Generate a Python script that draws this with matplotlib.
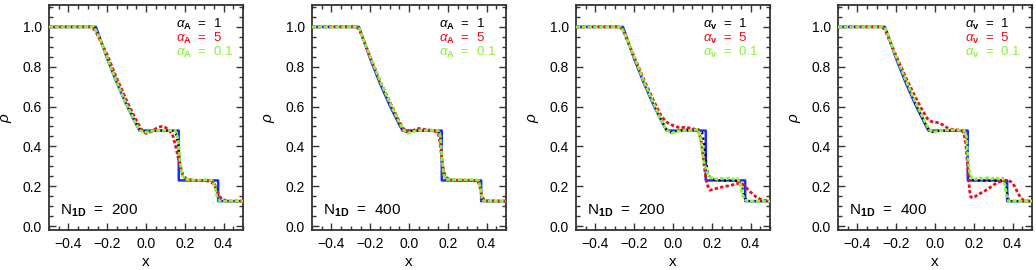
import matplotlib
matplotlib.use('Agg')
import matplotlib.pyplot as plt
from matplotlib.ticker import MultipleLocator

plt.rcParams['font.family'] = ['Liberation Sans', 'DejaVu Sans']
plt.rcParams['mathtext.fontset'] = 'custom'
plt.rcParams['mathtext.rm'] = 'Liberation Sans'
plt.rcParams['mathtext.it'] = 'Liberation Sans:italic'
plt.rcParams['mathtext.bf'] = 'Liberation Sans:bold'

# analytic solution (blue)
exact_x = [-0.5, -0.258, -0.2, -0.15, -0.1, -0.05, -0.033, 0.169, 0.169, 0.372, 0.372, 0.5]
exact_rho = [1.0, 1.0, 0.84, 0.717, 0.607, 0.509, 0.479, 0.479, 0.229, 0.229, 0.125, 0.125]

# panel 1: alpha_A, N=200
p1_black_x = [-0.5, -0.28, -0.26, -0.24, -0.2, -0.15, -0.1, -0.05, -0.03, -0.01, 0.02, 0.06, 0.1, 0.14, 0.155, 0.165, 0.175, 0.185, 0.2, 0.22, 0.25, 0.3, 0.34, 0.355, 0.365, 0.375, 0.39, 0.5]
p1_black_y = [1.0, 1.0, 0.99, 0.95, 0.85, 0.73, 0.62, 0.52, 0.485, 0.475, 0.475, 0.48, 0.48, 0.478, 0.46, 0.41, 0.32, 0.27, 0.24, 0.232, 0.23, 0.23, 0.228, 0.21, 0.17, 0.135, 0.125, 0.125]
p1_red_x = [-0.5, -0.28, -0.26, -0.24, -0.2, -0.15, -0.1, -0.05, -0.02, 0.0, 0.03, 0.06, 0.08, 0.1, 0.12, 0.14, 0.16, 0.175, 0.19, 0.21, 0.24, 0.28, 0.32, 0.345, 0.36, 0.375, 0.39, 0.42, 0.5]
p1_red_y = [1.0, 1.0, 0.98, 0.94, 0.86, 0.74, 0.63, 0.53, 0.48, 0.465, 0.475, 0.495, 0.5, 0.495, 0.48, 0.45, 0.37, 0.3, 0.255, 0.235, 0.23, 0.228, 0.226, 0.215, 0.19, 0.155, 0.135, 0.125, 0.125]
p1_green_x = [-0.5, -0.27, -0.25, -0.2, -0.15, -0.1, -0.05, -0.03, -0.01, 0.02, 0.06, 0.1, 0.15, 0.165, 0.175, 0.185, 0.2, 0.25, 0.3, 0.34, 0.355, 0.365, 0.38, 0.5]
p1_green_y = [1.0, 1.0, 0.97, 0.845, 0.72, 0.61, 0.51, 0.48, 0.47, 0.475, 0.48, 0.48, 0.48, 0.44, 0.33, 0.26, 0.235, 0.23, 0.232, 0.23, 0.2, 0.15, 0.125, 0.125]

# panel 2: alpha_A, N=400
p2_black_x = [-0.5, -0.27, -0.255, -0.2, -0.15, -0.1, -0.05, -0.03, -0.015, 0.01, 0.06, 0.1, 0.15, 0.16, 0.17, 0.18, 0.19, 0.21, 0.25, 0.3, 0.36, 0.368, 0.376, 0.385, 0.5]
p2_black_y = [1.0, 1.0, 0.99, 0.845, 0.725, 0.615, 0.515, 0.483, 0.472, 0.477, 0.48, 0.48, 0.478, 0.45, 0.34, 0.26, 0.24, 0.232, 0.23, 0.23, 0.228, 0.19, 0.14, 0.125, 0.125]
p2_red_x = [-0.5, -0.27, -0.255, -0.2, -0.15, -0.1, -0.05, -0.03, -0.01, 0.02, 0.05, 0.08, 0.12, 0.15, 0.16, 0.17, 0.18, 0.19, 0.21, 0.25, 0.3, 0.355, 0.365, 0.375, 0.39, 0.5]
p2_red_y = [1.0, 1.0, 0.985, 0.85, 0.73, 0.625, 0.525, 0.49, 0.475, 0.48, 0.49, 0.485, 0.48, 0.47, 0.42, 0.33, 0.27, 0.245, 0.233, 0.23, 0.23, 0.226, 0.2, 0.15, 0.127, 0.125]
p2_green_x = [-0.5, -0.27, -0.255, -0.2, -0.15, -0.1, -0.05, -0.03, -0.01, 0.01, 0.05, 0.1, 0.15, 0.162, 0.17, 0.178, 0.19, 0.22, 0.26, 0.3, 0.34, 0.36, 0.368, 0.376, 0.385, 0.5]
p2_green_y = [1.0, 1.0, 0.99, 0.85, 0.73, 0.62, 0.52, 0.485, 0.465, 0.472, 0.48, 0.48, 0.48, 0.45, 0.34, 0.26, 0.235, 0.232, 0.233, 0.232, 0.233, 0.228, 0.19, 0.14, 0.125, 0.125]

# panel 3: alpha_v, N=200
p3_black_x = [-0.5, -0.28, -0.26, -0.2, -0.15, -0.1, -0.05, -0.03, -0.01, 0.03, 0.08, 0.13, 0.15, 0.16, 0.17, 0.18, 0.2, 0.25, 0.3, 0.34, 0.355, 0.365, 0.375, 0.39, 0.5]
p3_black_y = [1.0, 1.0, 0.99, 0.845, 0.725, 0.615, 0.515, 0.48, 0.47, 0.48, 0.485, 0.485, 0.47, 0.42, 0.33, 0.26, 0.235, 0.228, 0.228, 0.225, 0.2, 0.16, 0.135, 0.125, 0.125]
p3_red_x = [-0.5, -0.28, -0.26, -0.2, -0.15, -0.1, -0.06, -0.03, 0.0, 0.03, 0.07, 0.1, 0.13, 0.145, 0.155, 0.165, 0.175, 0.19, 0.21, 0.25, 0.3, 0.34, 0.36, 0.38, 0.4, 0.43, 0.46, 0.5]
p3_red_y = [1.0, 1.0, 0.99, 0.85, 0.735, 0.63, 0.55, 0.52, 0.505, 0.495, 0.495, 0.49, 0.48, 0.43, 0.35, 0.27, 0.21, 0.18, 0.185, 0.195, 0.205, 0.215, 0.21, 0.19, 0.17, 0.145, 0.13, 0.125]
p3_green_x = [-0.5, -0.27, -0.25, -0.2, -0.15, -0.1, -0.05, -0.03, -0.01, 0.02, 0.06, 0.1, 0.13, 0.14, 0.15, 0.16, 0.175, 0.19, 0.21, 0.23, 0.25, 0.27, 0.29, 0.31, 0.33, 0.345, 0.355, 0.365, 0.38, 0.5]
p3_green_y = [1.0, 1.0, 0.97, 0.85, 0.725, 0.615, 0.51, 0.48, 0.465, 0.475, 0.48, 0.48, 0.485, 0.44, 0.38, 0.32, 0.27, 0.245, 0.24, 0.235, 0.24, 0.235, 0.242, 0.235, 0.24, 0.22, 0.17, 0.14, 0.125, 0.125]

# panel 4: alpha_v, N=400
p4_black_x = [-0.5, -0.27, -0.255, -0.2, -0.15, -0.1, -0.05, -0.03, -0.015, 0.01, 0.06, 0.1, 0.15, 0.16, 0.168, 0.176, 0.186, 0.2, 0.25, 0.3, 0.36, 0.368, 0.376, 0.385, 0.5]
p4_black_y = [1.0, 1.0, 0.99, 0.845, 0.725, 0.615, 0.515, 0.483, 0.472, 0.477, 0.48, 0.48, 0.478, 0.45, 0.34, 0.26, 0.235, 0.23, 0.228, 0.228, 0.226, 0.19, 0.14, 0.125, 0.125]
p4_red_x = [-0.5, -0.28, -0.26, -0.2, -0.15, -0.1, -0.07, -0.04, -0.02, 0.0, 0.02, 0.04, 0.06, 0.08, 0.1, 0.14, 0.15, 0.16, 0.17, 0.178, 0.185, 0.195, 0.21, 0.23, 0.26, 0.29, 0.32, 0.35, 0.38, 0.395, 0.41, 0.425, 0.44, 0.455, 0.47, 0.5]
p4_red_y = [1.0, 1.0, 0.99, 0.855, 0.745, 0.645, 0.59, 0.54, 0.525, 0.522, 0.518, 0.508, 0.495, 0.487, 0.484, 0.48, 0.46, 0.4, 0.28, 0.18, 0.145, 0.142, 0.15, 0.162, 0.178, 0.198, 0.218, 0.228, 0.228, 0.22, 0.2, 0.17, 0.145, 0.13, 0.126, 0.125]
p4_green_x = [-0.5, -0.27, -0.255, -0.2, -0.15, -0.1, -0.05, -0.03, -0.01, 0.02, 0.06, 0.1, 0.15, 0.162, 0.17, 0.178, 0.19, 0.21, 0.23, 0.25, 0.27, 0.29, 0.31, 0.33, 0.35, 0.362, 0.37, 0.38, 0.5]
p4_green_y = [1.0, 1.0, 0.99, 0.85, 0.73, 0.62, 0.52, 0.485, 0.47, 0.478, 0.482, 0.482, 0.48, 0.45, 0.34, 0.27, 0.24, 0.235, 0.242, 0.235, 0.243, 0.236, 0.244, 0.236, 0.24, 0.2, 0.14, 0.125, 0.125]

panels = [
    ('A', '200', (p1_black_x, p1_black_y), (p1_red_x, p1_red_y), (p1_green_x, p1_green_y)),
    ('A', '400', (p2_black_x, p2_black_y), (p2_red_x, p2_red_y), (p2_green_x, p2_green_y)),
    ('v', '200', (p3_black_x, p3_black_y), (p3_red_x, p3_red_y), (p3_green_x, p3_green_y)),
    ('v', '400', (p4_black_x, p4_black_y), (p4_red_x, p4_red_y), (p4_green_x, p4_green_y)),
]
alpha_vals = ['1', '5', '0.1']

BLUE = '#1a2cff'
RED = '#e8101a'
GREEN = '#8cf03c'
spine_col = '#333333'

fig = plt.figure(figsize=(10.36, 2.7), dpi=100)
lefts = [49, 312, 576, 838]
for i, (sub, n1d, blk, red, grn) in enumerate(panels):
    ax = fig.add_axes([lefts[i] / 1036, 40 / 270, 194 / 1036, 225 / 270])
    ax.plot(exact_x, exact_rho, color=BLUE, lw=1.8, zorder=2)
    ax.plot(*blk, color='black', lw=1.6, ls=(0, (1, 1.5)), zorder=3)
    ax.plot(*red, color=RED, lw=2.0, ls=(0, (1.2, 0.8)), zorder=4)
    ax.plot(*grn, color=GREEN, lw=2.0, ls=(0, (1.5, 0.6)), zorder=5)

    ax.set_xlim(-0.5, 0.5)
    ax.set_ylim(-0.02, 1.11)
    ax.xaxis.set_major_locator(MultipleLocator(0.2))
    ax.xaxis.set_minor_locator(MultipleLocator(0.05))
    ax.yaxis.set_major_locator(MultipleLocator(0.2))
    ax.yaxis.set_minor_locator(MultipleLocator(0.05))
    ax.set_xticks([-0.4, -0.2, 0.0, 0.2, 0.4])
    ax.set_xticklabels(['\u22120.4', '\u22120.2', '0.0', '0.2', '0.4'])
    ax.set_yticks([0.0, 0.2, 0.4, 0.6, 0.8, 1.0])
    ax.set_yticklabels(['0.0', '0.2', '0.4', '0.6', '0.8', '1.0'])
    ax.tick_params(which='both', direction='in', top=True, right=True,
                   color=spine_col, labelsize=10, pad=5)
    ax.tick_params(which='major', length=5, width=1)
    ax.tick_params(which='minor', length=3, width=1)
    for s in ax.spines.values():
        s.set_color(spine_col)
        s.set_linewidth(1.3)
    ax.set_xlabel('x', fontsize=11, labelpad=3)
    ax.set_ylabel(r'$\rho$', fontsize=11, labelpad=6)

    for k, (val, col) in enumerate(zip(alpha_vals, ['black', RED, GREEN])):
        ax.text(0.655, 0.915 - k * 0.062,
                r'$\alpha_{\mathbf{' + sub + r'}}$  =  ' + val,
                transform=ax.transAxes, color=col, fontsize=9.5,
                va='center', ha='left')
    ax.text(0.055, 0.085, r'$\mathrm{N}_{\mathbf{1D}}$  =  ' + n1d,
            transform=ax.transAxes, fontsize=11, va='center', ha='left')

fig.savefig('out.png', dpi=100)
